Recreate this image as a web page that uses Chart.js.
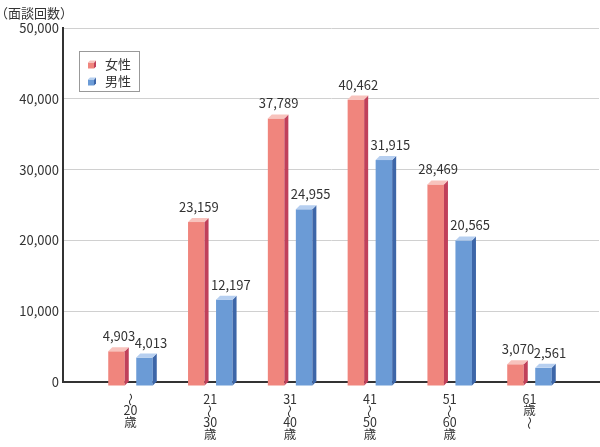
<!DOCTYPE html>
<html lang="ja">
<head>
<meta charset="utf-8">
<title>年齢別面談回数</title>
<script src="https://cdn.jsdelivr.net/npm/chart.js@4.4.1/dist/chart.umd.min.js"></script>
<style>
  html, body { margin: 0; padding: 0; background: #fff; }
  #wrap { width: 600px; height: 447px; position: relative; }
</style>
</head>
<body>
<div id="wrap"><canvas id="chart"></canvas></div>
<script>
// data
const ageLabels = [
  ["〜", "20", "歳"],
  ["21", "〜", "30", "歳"],
  ["31", "〜", "40", "歳"],
  ["41", "〜", "50", "歳"],
  ["51", "〜", "60", "歳"],
  ["61", "歳", "〜"]
];
const seriesNames = ["女性", "男性"];
const femaleCounts = [4903, 23159, 37789, 40462, 28469, 3070];
const maleCounts = [4013, 12197, 24955, 31915, 20565, 2561];
const yTickLabels = ["0", "10,000", "20,000", "30,000", "40,000", "50,000"];
const unitLabel = "（面談回数）";

const FONT = "'Noto Sans CJK JP', 'Noto Sans', sans-serif";
const TEXT = "#333";
const DEPTH = 4;
const TICK_SIZE = 12.5, TICK_LH = 0.94, TICK_PAD = 11;

function toPoints(arr) {
  return arr.map((v, i) => ({ x: i, y: v }));
}

function drawBox(ctx, l, r, top, bot, d, ds) {
  ctx.fillStyle = ds.frontColor;
  ctx.fillRect(l, top, r - l, bot - top);
  ctx.fillStyle = ds.sideColor;
  ctx.beginPath();
  ctx.moveTo(r, top); ctx.lineTo(r + d, top - d);
  ctx.lineTo(r + d, bot - d); ctx.lineTo(r, bot);
  ctx.closePath(); ctx.fill();
  ctx.fillStyle = ds.topColor;
  ctx.beginPath();
  ctx.moveTo(l, top); ctx.lineTo(r, top);
  ctx.lineTo(r + d, top - d); ctx.lineTo(l + d, top - d);
  ctx.closePath(); ctx.fill();
}

// draws the bars as little boxes, plus the value labels
const bar3d = {
  id: "bar3d",
  beforeDatasetDraw() { return false; },
  afterDatasetsDraw(chart) {
    const ctx = chart.ctx;
    ctx.save();
    chart.data.datasets.forEach((ds, i) => {
      const meta = chart.getDatasetMeta(i);
      meta.data.forEach((bar, j) => {
        const p = bar.getProps(["x", "y", "base", "width"], true);
        drawBox(ctx, p.x - p.width / 2, p.x + p.width / 2, p.y + DEPTH, p.base + DEPTH, DEPTH, ds);
        ctx.fillStyle = TEXT;
        ctx.font = "13px " + FONT;
        ctx.textAlign = "center";
        ctx.textBaseline = "alphabetic";
        ctx.fillText(ds.data[j].y.toLocaleString("en-US"), p.x + ds.labelShift, p.y - 6);
      });
    });
    ctx.restore();
  },
  afterDraw(chart) {
    const ctx = chart.ctx;
    ctx.save();
    // unit label
    ctx.fillStyle = TEXT;
    ctx.font = "13px " + FONT;
    ctx.textAlign = "right";
    ctx.textBaseline = "middle";
    ctx.fillText(unitLabel, 73, 13);
    // legend box
    ctx.strokeStyle = "#999";
    ctx.lineWidth = 1;
    ctx.strokeRect(79.5, 51.5, 60, 40);
    chart.data.datasets.forEach((ds, i) => {
      const yc = 64.5 + i * 17;
      drawBox(ctx, 88, 94, yc - 2, yc + 4, 2, ds);
      ctx.fillStyle = TEXT;
      ctx.textAlign = "left";
      ctx.fillText(ds.label, 105, yc);
    });
    // the wave dash is written vertically in the age labels
    const xs = chart.scales.x;
    const lh = TICK_SIZE * TICK_LH;
    ctx.font = "13px " + FONT;
    ctx.textAlign = "center";
    ctx.textBaseline = "middle";
    xs.ticks.forEach(t => {
      const px = xs.getPixelForValue(t.value);
      ageLabels[t.value].forEach((s, k) => {
        if (s !== "〜") return;
        const cy = xs.top + TICK_PAD + k * lh + lh / 2 + 0.5;
        ctx.save();
        ctx.translate(px, cy);
        ctx.rotate(Math.PI / 2);
        ctx.fillText(s, 0, 0);
        ctx.restore();
      });
    });
    ctx.restore();
  }
};

new Chart(document.getElementById("chart"), {
  type: "bar",
  data: {
    datasets: [
      {
        label: seriesNames[0],
        data: toPoints(femaleCounts),
        backgroundColor: "#f0857d",
        frontColor: "#f0857d",
        sideColor: "#c0405a",
        topColor: "#f8c3bd",
        labelShift: 2.5
      },
      {
        label: seriesNames[1],
        data: toPoints(maleCounts),
        backgroundColor: "#6b9bd6",
        frontColor: "#6b9bd6",
        sideColor: "#3d66a8",
        topColor: "#b6cff0",
        labelShift: 6.5
      }
    ]
  },
  options: {
    responsive: true,
    maintainAspectRatio: false,
    animation: false,
    categoryPercentage: 0.702,
    barPercentage: 0.59,
    layout: { padding: { top: 28, right: 1, left: 0, bottom: 0 } },
    plugins: {
      legend: { display: false },
      tooltip: { enabled: false }
    },
    scales: {
      x: {
        type: "linear",
        offset: false,
        min: -0.846,
        max: 5.871,
        afterBuildTicks: s => { s.ticks = ageLabels.map((_, i) => ({ value: i })); },
        afterFit: s => { s.height = 65; },
        ticks: {
          // the wave dash lines are left blank here and drawn turned in the plugin
          callback: v => ageLabels[v].map(s => (s === "〜" ? " " : s)),
          autoSkip: false,
          maxRotation: 0,
          padding: TICK_PAD,
          color: TEXT,
          font: { family: FONT, size: TICK_SIZE, lineHeight: TICK_LH }
        },
        grid: { display: false, drawTicks: false },
        border: { color: "#333", width: 2 }
      },
      y: {
        min: 0,
        max: 50000,
        afterFit: s => { s.width = 63; },
        ticks: {
          stepSize: 10000,
          callback: v => yTickLabels[v / 10000],
          padding: 4,
          color: TEXT,
          font: { family: FONT, size: 13 }
        },
        grid: { color: "#d0d0d0", drawTicks: false },
        border: { color: "#333", width: 2 }
      }
    }
  },
  plugins: [bar3d]
});
</script>
</body>
</html>
